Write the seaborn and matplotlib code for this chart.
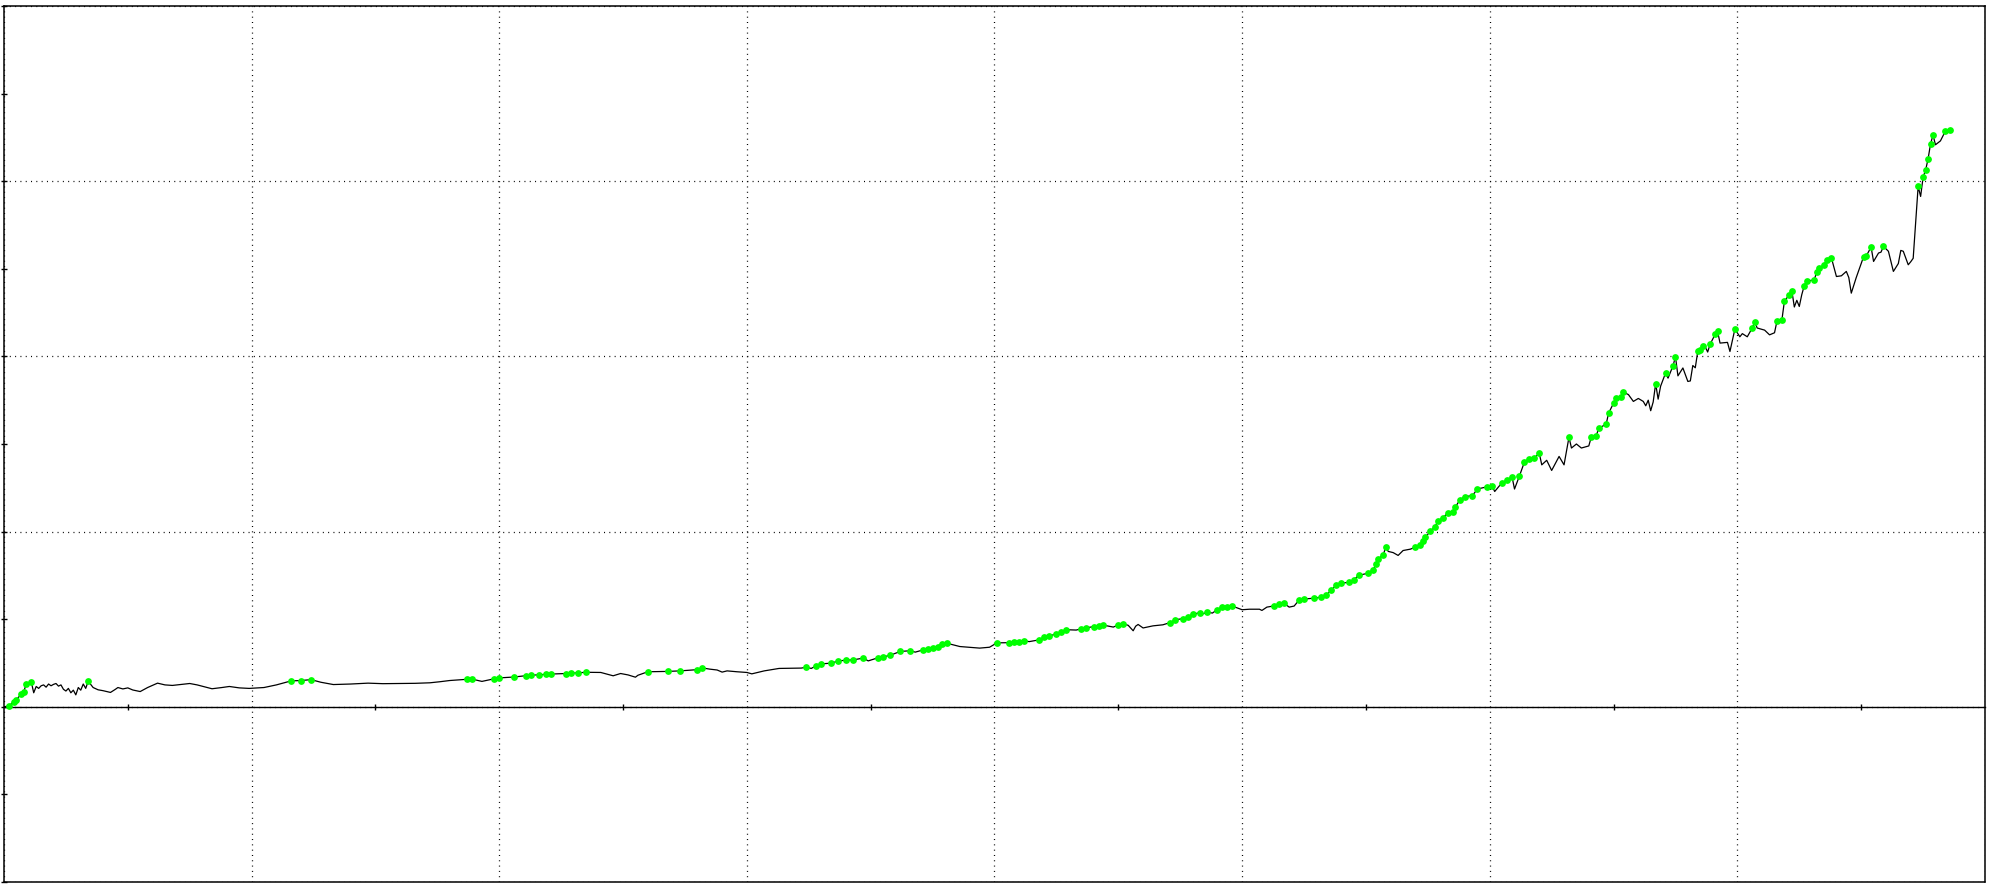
import numpy as np
import pandas as pd
import matplotlib
matplotlib.use("Agg")
import matplotlib.pyplot as plt
import seaborn as sns
from matplotlib.ticker import MultipleLocator, FixedLocator

# equity curve, split in stages (trade number, equity)
tradesFlat = [0, 2, 4, 5, 7, 8, 9, 11, 12, 13, 14, 15, 16, 17, 18, 19, 20, 21, 22, 23,
              24, 25, 26, 27, 28, 29, 30, 31, 32, 33, 34, 36, 38, 40, 43, 45, 46, 48, 50, 52,
              55, 58, 62, 65, 68, 72, 75, 78, 84, 88, 91, 95, 99, 105, 110, 116, 120, 124, 128, 133,
              140, 147, 153, 160, 166, 172, 176, 180, 184, 187, 189, 193, 198, 200]
equityFlat = [0, 5, 30, 40, 74, 87, 131, 143, 80, 116, 105, 120, 125, 112, 130, 120, 128, 133, 118, 125,
              100, 90, 105, 80, 95, 68, 110, 95, 130, 105, 146, 110, 97, 92, 82, 100, 110, 102, 108, 96,
              87, 110, 135, 125, 122, 128, 133, 125, 103, 110, 116, 108, 105, 110, 125, 148, 150, 155, 140, 127,
              130, 135, 132, 133, 134, 137, 143, 150, 154, 157, 158, 145, 160, 165]

tradesSlow = [206, 211, 213, 216, 219, 221, 227, 229, 232, 235, 241, 246, 249, 252, 255, 256, 260, 268, 273, 280,
              282, 285, 288, 290, 292, 296, 300, 302, 307, 313, 322, 324, 326, 328, 330, 334, 337, 340, 343, 347,
              349, 353, 355, 358, 362, 366, 368, 371, 373, 375, 377, 379, 381, 386, 391, 394, 398, 401]
equitySlow = [170, 178, 180, 183, 185, 187, 190, 192, 194, 197, 196, 177, 190, 182, 169, 180, 200, 202, 205, 212,
              222, 215, 210, 198, 205, 200, 196, 188, 205, 219, 221, 226, 219, 234, 245, 249, 262, 266, 268, 278,
              262, 280, 284, 295, 316, 320, 312, 324, 330, 338, 342, 360, 362, 344, 338, 335, 340, 365]

tradesClimb = [406, 408, 410, 412, 414, 418, 420, 422, 425, 427, 429, 433, 435, 437, 440, 442, 444, 448, 450, 452,
               454, 456, 457, 458, 460, 464, 468, 471, 473, 476, 478, 480, 483, 484, 486, 488, 490, 492, 494, 496,
               500, 503, 507, 508, 510, 513, 515, 517, 519, 521, 523, 525, 529, 532, 534, 536, 538, 540, 543, 545, 547]
equityClimb = [366, 368, 371, 377, 372, 382, 396, 403, 417, 428, 440, 438, 445, 450, 458, 460, 466, 455, 468, 474,
               465, 434, 460, 470, 450, 462, 468, 481, 497, 503, 514, 527, 538, 530, 540, 535, 555, 569, 572, 575,
               554, 557, 557, 550, 569, 576, 588, 590, 569, 575, 609, 615, 620, 626, 639, 664, 696, 706, 710, 723, 750]

tradesFast = [551, 553, 554, 555, 557, 558, 559, 561, 563, 565, 568, 570, 572, 573, 574, 576, 578, 579, 581, 583,
              585, 586, 588, 590, 593, 595, 599, 601, 602, 605, 607, 609, 610, 612, 614, 616, 618, 620, 621, 623,
              625, 628, 630, 632, 633, 635, 637, 640, 641, 643, 644, 647, 648, 650, 651, 653, 654, 656, 658, 660,
              662, 663, 664, 665, 666, 667]
equityFast = [763, 782, 815, 843, 868, 911, 887, 880, 864, 892, 900, 912, 925, 948, 969, 1001, 1029, 1062, 1077, 1106,
              1114, 1138, 1182, 1200, 1205, 1243, 1256, 1258, 1229, 1280, 1292, 1313, 1243, 1318, 1397, 1416, 1420, 1448, 1381, 1407,
              1349, 1429, 1381, 1539, 1477, 1500, 1477, 1489, 1540, 1547, 1590, 1613, 1676, 1733, 1765, 1770, 1796, 1782, 1743, 1760,
              1743, 1718, 1750, 1690, 1740, 1844]

tradesLate = [668, 669, 671, 672, 674, 675, 676, 678, 680, 681, 682, 683, 684, 685, 686, 687, 688, 689, 691, 692,
              693, 696, 697, 699, 701, 702, 704, 706, 707, 708, 711, 713, 715, 716, 718, 719, 721, 722, 723, 724,
              725, 726, 727, 728, 731, 732, 733, 735, 736, 738, 740, 742, 744, 745, 746, 748, 751, 752, 754, 755,
              757, 758, 759, 761, 763, 765, 766, 767, 769, 770, 771, 773, 774, 775, 776, 777, 778, 779, 780, 782,
              784, 786]
equityLate = [1756, 1830, 1905, 1876, 1946, 1998, 1889, 1934, 1857, 1860, 1948, 1935, 2028, 2034, 2059, 2055, 2025, 2070, 2125, 2144,
              2076, 2080, 2028, 2156, 2112, 2130, 2112, 2162, 2196, 2162, 2150, 2123, 2135, 2202, 2210, 2316, 2352, 2375, 2282, 2320,
              2285, 2352, 2403, 2430, 2436, 2479, 2504, 2521, 2550, 2561, 2456, 2460, 2485, 2450, 2361, 2450, 2570, 2572, 2624, 2542,
              2590, 2595, 2628, 2600, 2485, 2530, 2605, 2600, 2523, 2540, 2560, 2970, 2913, 3023, 3063, 3126, 3212, 3263, 3208, 3230,
              3286, 3290]

df = pd.DataFrame({
    "trade": tradesFlat + tradesSlow + tradesClimb + tradesFast + tradesLate,
    "equity": equityFlat + equitySlow + equityClimb + equityFast + equityLate,
})
# a point is marked when it makes a new equity high
df["newHigh"] = df["equity"] > df["equity"].cummax().shift(1)
highs = df[df["newHigh"]]

sns.set_style("white")
plt.rcParams["lines.scale_dashes"] = False

fig = plt.figure(figsize=(19.89, 8.84), dpi=100)
ax = fig.add_axes([4 / 1989, 2 / 884, 1981 / 1989, 876 / 884])

sns.lineplot(data=df, x="trade", y="equity", ax=ax, color="black", linewidth=0.9,
             estimator=None, sort=False, zorder=2)
sns.scatterplot(data=highs, x="trade", y="equity", ax=ax, color="#00ff00", s=24,
                linewidth=0, zorder=3)

ax.set(xlim=(0, 800), ylim=(-1000, 4000), xlabel="", ylabel="")

ax.xaxis.set_major_locator(MultipleLocator(100))
ax.xaxis.set_minor_locator(FixedLocator(np.arange(50, 800, 100)))
ax.yaxis.set_major_locator(MultipleLocator(1000))
ax.yaxis.set_minor_locator(MultipleLocator(500))
ax.tick_params(axis="x", which="major", length=0, labelbottom=False)
ax.tick_params(axis="x", which="minor", bottom=True, direction="inout", length=5, width=1.0, color="black")
ax.tick_params(axis="y", which="both", left=True, direction="inout", length=5, width=1.0, color="black",
               labelleft=False)

ax.grid(True, which="major", color="black", linewidth=0.9, linestyle=(0, (0.72, 3.1)))
ax.set_axisbelow(True)

for name, spine in ax.spines.items():
    spine.set_visible(True)
    spine.set_color("black")
    spine.set_linewidth(1.1)
ax.spines["bottom"].set_position(("data", 0))
ax.spines["bottom"].set_linewidth(1.0)
ax.plot([0, 1], [0, 0], transform=ax.transAxes, color="black", linewidth=1.1, clip_on=False)

fig.savefig("out.png", dpi=100)
